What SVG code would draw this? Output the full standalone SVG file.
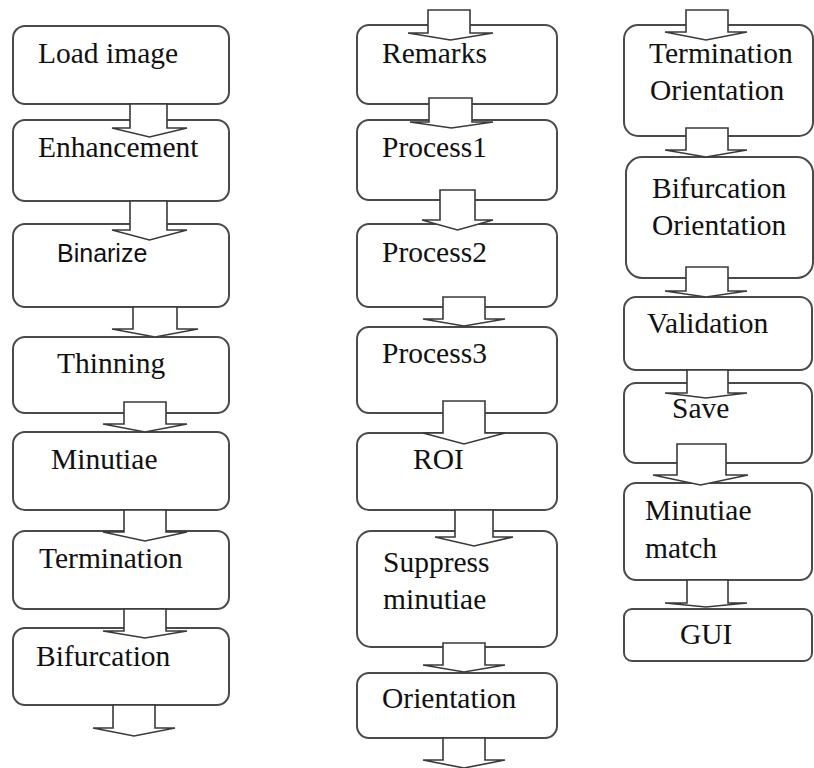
<svg xmlns="http://www.w3.org/2000/svg" width="814" height="768" viewBox="0 0 814 768">
<style>
.box{fill:#fff;stroke:#4a4a4a;stroke-width:2}
.arr{fill:#fff;stroke:#3a3a3a;stroke-width:1.6;stroke-linejoin:miter}
text{font-size:29.5px;fill:#111}
text.s{font-family:'Liberation Sans',Arial,sans-serif;font-size:25px}
</style>
<rect width="814" height="768" fill="#fff"/>
<g font-family="'Liberation Serif','DejaVu Serif',serif">
<g id="nodes-left">
<g id="load-image"><rect class="box" x="13" y="26" width="216" height="78" rx="12"/><text font-family="'Liberation Serif','DejaVu Serif',serif" x="38" y="63">Load image</text></g>
<g id="enhancement"><rect class="box" x="13" y="120" width="216" height="81" rx="12"/><text font-family="'Liberation Serif','DejaVu Serif',serif" x="38" y="157">Enhancement</text></g>
<g id="binarize"><rect class="box" x="13" y="224" width="216" height="83" rx="12"/><text class="s" x="57" y="262">Binarize</text></g>
<g id="thinning"><rect class="box" x="13" y="337" width="216" height="76" rx="12"/><text font-family="'Liberation Serif','DejaVu Serif',serif" x="57" y="373">Thinning</text></g>
<g id="minutiae"><rect class="box" x="13" y="432" width="216" height="78" rx="12"/><text font-family="'Liberation Serif','DejaVu Serif',serif" x="51" y="469">Minutiae</text></g>
<g id="termination"><rect class="box" x="13" y="531" width="216" height="78" rx="12"/><text font-family="'Liberation Serif','DejaVu Serif',serif" x="39" y="568">Termination</text></g>
<g id="bifurcation"><rect class="box" x="13" y="628" width="216" height="77" rx="12"/><text font-family="'Liberation Serif','DejaVu Serif',serif" x="36" y="666">Bifurcation</text></g>
</g>
<g id="nodes-middle">
<g id="remarks"><rect class="box" x="357" y="25" width="200" height="79" rx="12"/><text font-family="'Liberation Serif','DejaVu Serif',serif" x="382" y="63">Remarks</text></g>
<g id="process1"><rect class="box" x="357" y="120" width="200" height="80" rx="12"/><text font-family="'Liberation Serif','DejaVu Serif',serif" x="382" y="157">Process1</text></g>
<g id="process2"><rect class="box" x="357" y="224" width="200" height="83" rx="12"/><text font-family="'Liberation Serif','DejaVu Serif',serif" x="382" y="262">Process2</text></g>
<g id="process3"><rect class="box" x="357" y="327" width="200" height="86" rx="12"/><text font-family="'Liberation Serif','DejaVu Serif',serif" x="382" y="363">Process3</text></g>
<g id="roi"><rect class="box" x="357" y="433" width="200" height="77" rx="12"/><text font-family="'Liberation Serif','DejaVu Serif',serif" x="413" y="469">ROI</text></g>
<g id="suppress-minutiae"><rect class="box" x="357" y="531" width="200" height="116" rx="14"/><text font-family="'Liberation Serif','DejaVu Serif',serif" x="383" y="572">Suppress</text><text font-family="'Liberation Serif','DejaVu Serif',serif" x="383" y="609">minutiae</text></g>
<g id="orientation"><rect class="box" x="357" y="673" width="200" height="65" rx="12"/><text font-family="'Liberation Serif','DejaVu Serif',serif" x="382" y="708">Orientation</text></g>
</g>
<g id="nodes-right">
<g id="termination-orientation"><rect class="box" x="624" y="25" width="189" height="111" rx="14"/><text font-family="'Liberation Serif','DejaVu Serif',serif" x="649" y="63">Termination</text><text font-family="'Liberation Serif','DejaVu Serif',serif" x="650" y="100">Orientation</text></g>
<g id="bifurcation-orientation"><rect class="box" x="626" y="157" width="187" height="121" rx="16"/><text font-family="'Liberation Serif','DejaVu Serif',serif" x="652" y="198">Bifurcation</text><text font-family="'Liberation Serif','DejaVu Serif',serif" x="652" y="235">Orientation</text></g>
<g id="validation"><rect class="box" x="624" y="297" width="188" height="73" rx="12"/><text font-family="'Liberation Serif','DejaVu Serif',serif" x="647" y="333">Validation</text></g>
<g id="save"><rect class="box" x="624" y="383" width="188" height="80" rx="12"/><text font-family="'Liberation Serif','DejaVu Serif',serif" x="672" y="418">Save</text></g>
<g id="minutiae-match"><rect class="box" x="624" y="483" width="188" height="97" rx="12"/><text font-family="'Liberation Serif','DejaVu Serif',serif" x="645" y="520">Minutiae</text><text font-family="'Liberation Serif','DejaVu Serif',serif" x="645" y="558">match</text></g>
<g id="gui"><rect class="box" x="624" y="609" width="188" height="52" rx="8"/><text font-family="'Liberation Serif','DejaVu Serif',serif" x="680" y="644">GUI</text></g>
</g>
</g>
<g id="connectors">
<polygon class="arr" points="130,104 167,104 167,128 187,128 149.5,137 112,128 130,128"/>
<polygon class="arr" points="130,201 167,201 167,230 187,230 149.5,240 112,230 130,230"/>
<polygon class="arr" points="133,307 177,307 177,329 198,329 155,337 112,329 133,329"/>
<polygon class="arr" points="124,402 166,402 166,424 187,424 145,432 103,424 124,424"/>
<polygon class="arr" points="124,510 166,510 166,532 187,532 145,541 103,532 124,532"/>
<polygon class="arr" points="124,609 166,609 166,631 187,631 145,638 103,631 124,631"/>
<polygon class="arr" points="113,705 155,705 155,728 175,728 134,736 93,728 113,728"/>
<polygon class="arr" points="428,10 470,10 470,33 493,33 450.5,40 408,33 428,33"/>
<polygon class="arr" points="429,98 472,98 472,122 493,122 451.5,128 410,122 429,122"/>
<polygon class="arr" points="440,190 475,190 475,220 493,220 457.5,230 422,220 440,220"/>
<polygon class="arr" points="443,297 485,297 485,319 505,319 464,326 423,319 443,319"/>
<polygon class="arr" points="443,401 485,401 485,433 505,433 464,444 423,433 443,433"/>
<polygon class="arr" points="455,510 493,510 493,537 513,537 474,546 435,537 455,537"/>
<polygon class="arr" points="443,643 485,643 485,665 505,665 464,672 423,665 443,665"/>
<polygon class="arr" points="443,738 485,738 485,760 505,760 464,768 423,760 443,760"/>
<polygon class="arr" points="686,10 728,10 728,32 747,32 706,40 665,32 686,32"/>
<polygon class="arr" points="686,128 728,128 728,150 747,150 706,157 665,150 686,150"/>
<polygon class="arr" points="686,267 728,267 728,291 747,291 706,297 665,291 686,291"/>
<polygon class="arr" points="687,370 728,370 728,393 747,393 706,398 665,393 687,393"/>
<polygon class="arr" points="677,444 726,444 726,475 748,475 700.5,485 653,475 677,475"/>
<polygon class="arr" points="687,580 728,580 728,603 747,603 706,607 665,603 687,603"/>
</g>
</svg>
